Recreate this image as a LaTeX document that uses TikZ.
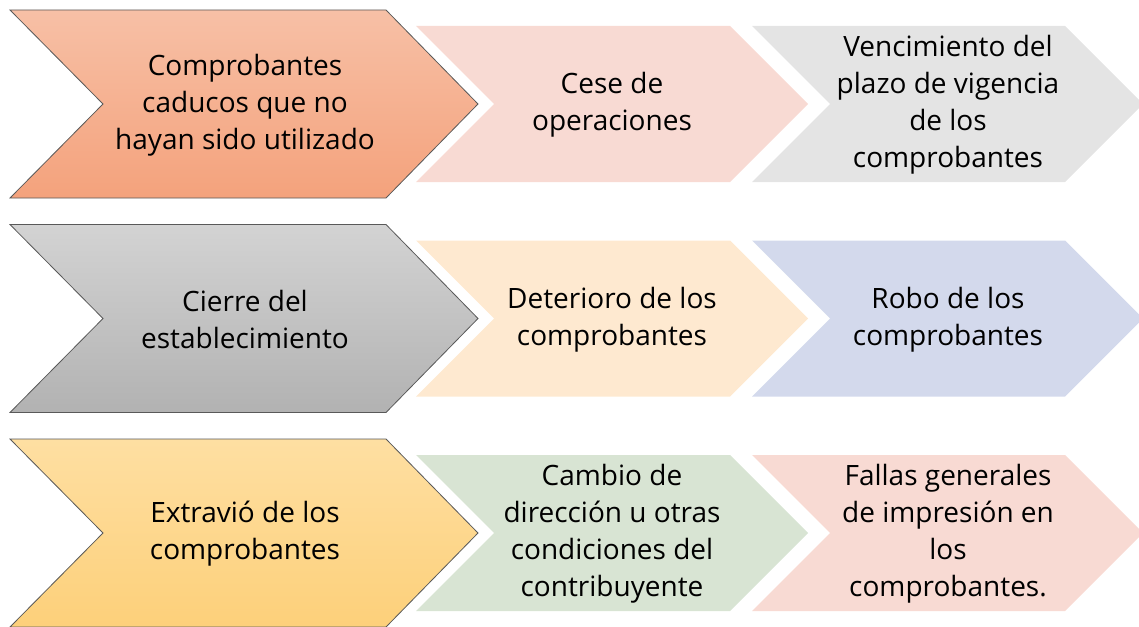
\documentclass[tikz,border=0pt]{standalone}
\usepackage{fontspec}
\setmainfont{Open Sans}
\usepackage{tikz}
\usetikzlibrary{positioning}

\definecolor{salmonTop}{HTML}{F7C0A6}
\definecolor{salmonBot}{HTML}{F4A27C}
\definecolor{rosePale}{HTML}{F8DAD3}
\definecolor{greyPale}{HTML}{E4E4E4}
\definecolor{greyTop}{HTML}{D3D3D3}
\definecolor{greyBot}{HTML}{B2B2B2}
\definecolor{peachPale}{HTML}{FEE9D0}
\definecolor{lilacPale}{HTML}{D3D9EC}
\definecolor{goldTop}{HTML}{FEDFA2}
\definecolor{goldBot}{HTML}{FDD07A}
\definecolor{sagePale}{HTML}{D8E4D3}

\begin{document}
\begin{tikzpicture}[x=1pt, y=-1pt,
  bigchev/.style={draw=black!65, line width=0.8pt, line join=miter},
  chevtext/.style={align=center, font=\fontsize{28}{37}\selectfont, inner sep=0pt}]
\useasboundingbox (0,0) rectangle (1139,626);
%%%%% Row 1 %%%%%
\shade[bigchev, top color=salmonTop, bottom color=salmonBot] (10,10)--(386,10)--(478,104)--(386,198)--(10,198)--(103,104)--cycle;
\fill[rosePale] (416,26)--(730,26)--(808,104)--(730,182)--(416,182)--(494,104)--cycle;
\fill[greyPale] (752,26)--(1065,26)--(1143,104)--(1065,182)--(752,182)--(830,104)--cycle;
\node[chevtext] (caducos) at (245,105) {Comprobantes\\caducos que no\\hayan sido utilizado};
\node[chevtext] (cese) at (612,105) {Cese de\\operaciones};
\node[chevtext] (vencimiento) at (948,105) {Vencimiento del\\plazo de vigencia\\de los\\comprobantes};
%%%%% Row 2 %%%%%
\shade[bigchev, top color=greyTop, bottom color=greyBot] (10,224.5)--(386,224.5)--(478,318.5)--(386,412.5)--(10,412.5)--(103,318.5)--cycle;
\fill[peachPale] (416,240.5)--(730,240.5)--(808,318.5)--(730,396.5)--(416,396.5)--(494,318.5)--cycle;
\fill[lilacPale] (752,240.5)--(1065,240.5)--(1143,318.5)--(1065,396.5)--(752,396.5)--(830,318.5)--cycle;
\node[chevtext] (cierre) at (245,319.5) {Cierre del\\establecimiento};
\node[chevtext] (deterioro) at (612,319.5) {Deterioro de los\\comprobantes};
\node[chevtext] (robo) at (948,319.5) {Robo de los\\comprobantes};
%%%%% Row 3 %%%%%
\shade[bigchev, top color=goldTop, bottom color=goldBot] (10,439)--(386,439)--(478,533)--(386,627)--(10,627)--(103,533)--cycle;
\fill[sagePale] (416,455)--(730,455)--(808,533)--(730,611)--(416,611)--(494,533)--cycle;
\fill[rosePale] (752,455)--(1065,455)--(1143,533)--(1065,611)--(752,611)--(830,533)--cycle;
\node[chevtext] (extravio) at (245,534) {Extravió de los\\comprobantes};
\node[chevtext] (cambio) at (612,534) {Cambio de\\dirección u otras\\condiciones del\\contribuyente};
\node[chevtext] (fallas) at (948,534) {Fallas generales\\de impresión en\\los\\comprobantes.};
\end{tikzpicture}
\end{document}
